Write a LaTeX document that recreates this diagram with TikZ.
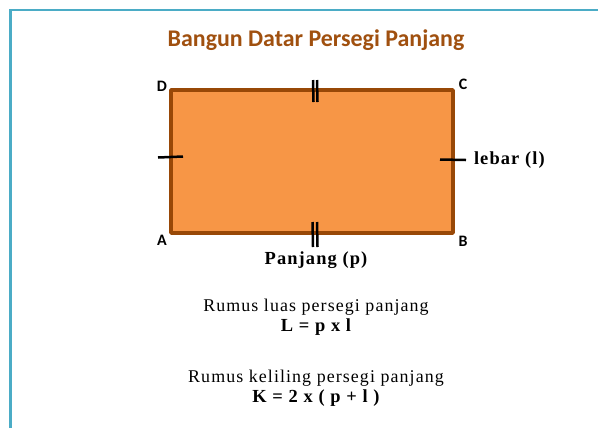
\documentclass[tikz,border=0pt]{standalone}
\usepackage{fontspec}
\setmainfont{Liberation Serif}
\newfontfamily\calibrifont{Carlito}
\newfontfamily\wideserif[LetterSpace=6]{Liberation Serif}
\definecolor{framecol}{HTML}{4BACC6}
\definecolor{rectfill}{HTML}{F79646}
\definecolor{rectline}{HTML}{984807}
\definecolor{titlecol}{HTML}{A0500F}

\begin{document}
\begin{tikzpicture}[x=1bp, y=-1bp,
	every node/.style={inner sep=0pt, outer sep=0pt},
	corner/.style={font=\calibrifont\bfseries\fontsize{16}{16}\selectfont},
	sidelabel/.style={font=\wideserif\bfseries\fontsize{18.5}{18}\selectfont},
	rumus/.style={font=\wideserif\fontsize{18}{18}\selectfont},
	formula/.style={font=\wideserif\bfseries\fontsize{18.5}{18}\selectfont},
	tickmark/.style={line width=2.5bp, black}]
		\useasboundingbox (0,0) rectangle (598,428);
		\fill[white] (0,0) rectangle (598,428);
		\draw[framecol, line width=2.5bp] (10.5,428) -- (10.5,10) -- (598,10);

		\path (171,233) coordinate (A)
		(453,233) coordinate (B)
		(453,90) coordinate (C)
		(171,90) coordinate (D);

		\draw[fill=rectfill, draw=rectline, line width=3.5bp, line join=round] (A) rectangle (C);

		% tick marks
		\draw[tickmark] (313,80) -- (313.5,102)
		(317,80) -- (317.5,102)
		(312.5,222) -- (313,247)
		(317,222) -- (317.5,247)
		(158,157.5) -- (183,156.5)
		(440,159.5) -- (466,160);

		\path (316,40) node[font=\calibrifont\bfseries\fontsize{24}{24}\selectfont, text=titlecol] (title) {Bangun Datar Persegi Panjang}
		(162,86) node[corner] (lD) {D}
		(463,84) node[corner] (lC) {C}
		(162,240) node[corner] (lA) {A}
		(463,241) node[corner] (lB) {B}
		(474,160) node[sidelabel, anchor=west] (lebar) {lebar (l)}
		(316,260) node[sidelabel] (panjang) {Panjang (p)}
		(316,307) node[rumus] (rluas) {Rumus luas persegi panjang}
		(316,327) node[formula] (fluas) {L = p x l}
		(316,378) node[rumus] (rkeliling) {Rumus keliling persegi panjang}
		(316,398) node[formula] (fkeliling) {K = 2 x ( p + l )};
	\end{tikzpicture}
\end{document}
